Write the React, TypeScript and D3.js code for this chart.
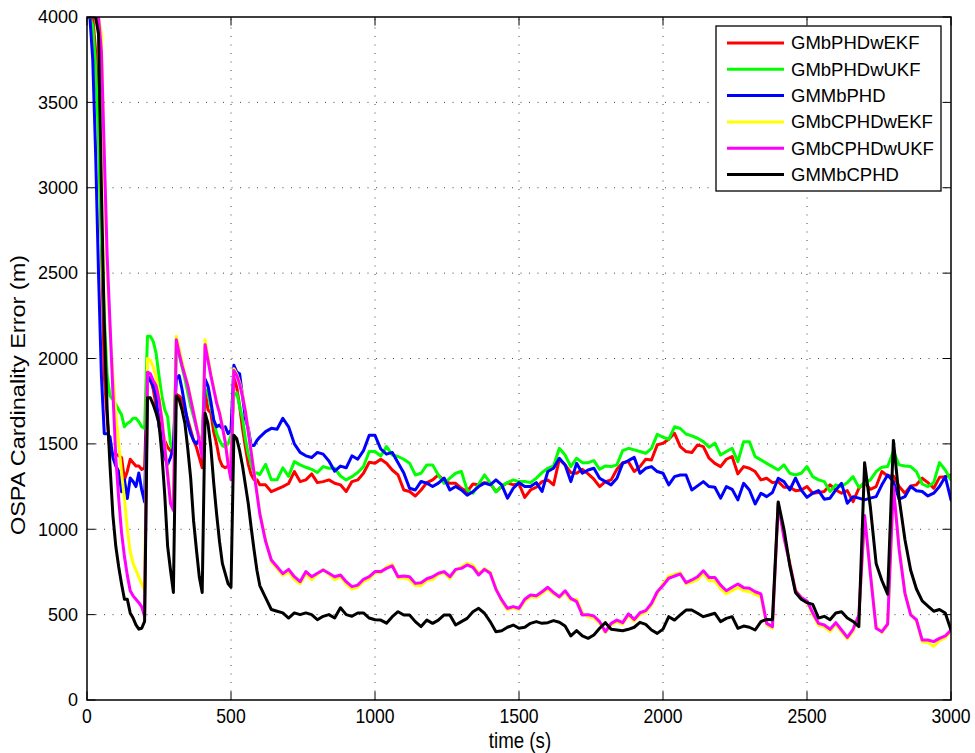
import React from 'react';
import * as d3 from 'd3';

// Sample times (s): 10 s steps up to 600 s, 20 s steps afterwards
const TIME: number[] = [...d3.range(0, 600, 10), ...d3.range(600, 3001, 20)];

const GMbPHDwEKF = [
  4000, 4000, 4000, 3800, 3400, 2700, 1900, 1650, 1450, 1440,
  1440, 1430, 1420, 1290, 1340, 1410, 1390, 1370, 1370, 1350,
  1360, 1890, 1880, 1820, 1720, 1660, 1580, 1520, 1480, 1460,
  1440, 1790, 1780, 1760, 1700, 1640, 1580, 1520, 1480, 1420,
  1360, 1810, 1700, 1680, 1570, 1500, 1410, 1370, 1360, 1370,
  1400, 1890, 1830, 1720, 1590, 1480, 1380, 1320, 1290, 1290,
  1260,
  1260, 1220, 1235, 1250, 1268, 1338, 1279, 1289, 1324, 1273,
  1279, 1289, 1269, 1260, 1221, 1279, 1289, 1328, 1392, 1386,
  1410, 1387, 1347, 1318, 1230, 1221, 1195, 1230, 1273, 1289,
  1318, 1285, 1269, 1269, 1240, 1221, 1265, 1260, 1273, 1269,
  1221, 1250, 1273, 1260, 1265, 1187, 1230, 1246, 1279, 1289,
  1260, 1410, 1377, 1332, 1328, 1351, 1324, 1293, 1250, 1279,
  1289, 1351, 1390, 1396, 1338, 1367, 1410, 1406, 1494, 1504,
  1527, 1562, 1484, 1455, 1449, 1494, 1484, 1416, 1386, 1367,
  1410, 1426, 1324, 1367, 1357, 1338, 1289, 1299, 1273, 1279,
  1246, 1246, 1226, 1230, 1250, 1211, 1215, 1221, 1260, 1230,
  1211, 1226, 1162, 1240, 1273, 1234, 1250, 1338, 1312, 1312,
  1250, 1211, 1254, 1260, 1299, 1273, 1240, 1304, 1308, 1318,
];

const GMbPHDwUKF = [
  4000, 4000, 3950, 3700, 3300, 2700, 2250, 1900, 1780, 1760,
  1730, 1700, 1670, 1600, 1620, 1630, 1650, 1650, 1630, 1600,
  1590, 2130, 2130, 2100, 2030, 1900, 1780, 1700, 1660, 1500,
  1450, 2050, 2020, 1950, 1880, 1800, 1720, 1660, 1590, 1540,
  1500, 1820, 1800, 1720, 1640, 1560, 1520, 1490, 1480, 1500,
  1550, 1780, 1800, 1720, 1650, 1530, 1440, 1380, 1330, 1330,
  1320,
  1380, 1290, 1290, 1360, 1310, 1396, 1377, 1363, 1351, 1332,
  1367, 1357, 1357, 1312, 1289, 1308, 1332, 1367, 1455, 1455,
  1429, 1484, 1435, 1426, 1410, 1387, 1318, 1328, 1377, 1377,
  1318, 1269, 1299, 1328, 1338, 1230, 1211, 1265, 1318, 1272,
  1218, 1254, 1273, 1289, 1279, 1280, 1273, 1299, 1332, 1357,
  1371, 1474, 1435, 1367, 1416, 1390, 1390, 1402, 1351, 1371,
  1367, 1377, 1461, 1474, 1465, 1455, 1445, 1474, 1556, 1539,
  1527, 1600, 1590, 1558, 1547, 1533, 1513, 1480, 1504, 1435,
  1455, 1474, 1396, 1513, 1513, 1425, 1406, 1386, 1367, 1347,
  1377, 1328, 1318, 1328, 1367, 1308, 1289, 1279, 1221, 1260,
  1250, 1273, 1308, 1246, 1269, 1289, 1338, 1363, 1367, 1455,
  1377, 1371, 1367, 1338, 1265, 1250, 1273, 1390, 1347, 1289,
];

const GMMbPHD = [
  4000, 4000, 3750, 3200, 2500, 1900, 1560, 1560, 1540, 1420,
  1370, 1340, 1220, 1290, 1180, 1300, 1280, 1250, 1330, 1230,
  1160, 1900, 1870, 1840, 1780, 1600, 1530, 1420, 1380, 1420,
  1480, 1880, 1900, 1820, 1720, 1620, 1560, 1520, 1500, 1530,
  1530, 1880, 1840, 1750, 1640, 1600, 1610, 1590, 1600, 1560,
  1580, 1960, 1920, 1910, 1780, 1650, 1590, 1490, 1490, 1520,
  1540,
  1572, 1591, 1586, 1650, 1600, 1500, 1450, 1430, 1420, 1450,
  1440, 1400, 1340, 1370, 1360, 1430, 1410, 1460, 1550, 1550,
  1470, 1440, 1450, 1390, 1330, 1240, 1230, 1280, 1270, 1250,
  1270, 1300, 1230, 1250, 1230, 1200, 1220, 1250, 1270, 1260,
  1289, 1260, 1182, 1240, 1273, 1250, 1250, 1273, 1221, 1338,
  1357, 1416, 1377, 1279, 1386, 1328, 1347, 1357, 1299, 1279,
  1260, 1299, 1386, 1402, 1421, 1328, 1357, 1367, 1338, 1328,
  1260, 1308, 1318, 1318, 1230, 1254, 1279, 1250, 1246, 1182,
  1250, 1234, 1172, 1269, 1230, 1148, 1211, 1191, 1215, 1299,
  1279, 1230, 1299, 1230, 1187, 1211, 1226, 1176, 1182, 1230,
  1269, 1152, 1191, 1182, 1172, 1182, 1191, 1260, 1318, 1279,
  1176, 1191, 1250, 1226, 1221, 1195, 1211, 1250, 1308, 1172,
];

const GMbCPHDwEKF = [
  4000, 4000, 4000, 4000, 4000, 3900, 3100, 2500, 2150, 1900,
  1680, 1500, 1330, 1180, 1000, 870, 800, 760, 720, 680,
  640, 2000, 1990, 1950, 1890, 1790, 1660, 1500, 1340, 1170,
  1120, 2130, 2060, 1980, 1910, 1850, 1770, 1690, 1610, 1530,
  1430, 2110, 2010, 1910, 1830, 1750, 1690, 1610, 1520, 1390,
  1300, 1940, 1910, 1860, 1790, 1700, 1580, 1460, 1340, 1220,
  1100,
  940, 810, 770, 730, 750, 705, 680, 740, 705, 735,
  765, 735, 705, 720, 680, 650, 660, 695, 710, 745,
  745, 780, 795, 715, 715, 705, 670, 670, 700, 705,
  735, 745, 710, 760, 780, 800, 790, 740, 770, 748,
  655, 578, 528, 540, 530, 580, 605, 600, 625, 650,
  622, 600, 632, 585, 590, 510, 488, 480, 450, 395,
  440, 458, 445, 495, 462, 500, 515, 556, 625, 680,
  725, 735, 746, 680, 690, 705, 742, 700, 696, 652,
  622, 640, 660, 640, 636, 618, 605, 440, 420, 1150,
  955, 810, 645, 600, 575, 500, 438, 428, 400, 444,
  398, 358, 404, 488, 1070, 745, 430, 395, 440, 1240,
  890, 632, 505, 462, 340, 338, 315, 348, 365, 402,
];

const GMbCPHDwUKF = [
  4000, 4000, 4000, 4000, 4000, 3800, 3200, 2600, 2200, 1800,
  1420, 1180, 980, 840, 730, 640, 610, 590, 570, 545,
  490, 1920, 1910, 1870, 1840, 1760, 1640, 1480, 1320, 1150,
  1110, 2110, 2030, 1960, 1900, 1840, 1760, 1680, 1600, 1520,
  1420, 2080, 1990, 1900, 1820, 1740, 1680, 1600, 1510, 1380,
  1290, 1930, 1900, 1850, 1780, 1690, 1570, 1450, 1330, 1210,
  1090,
  930, 820, 780, 740, 765, 722, 693, 752, 722, 742,
  761, 742, 722, 732, 693, 664, 673, 707, 722, 752,
  752, 771, 785, 722, 726, 722, 683, 687, 710, 722,
  742, 752, 722, 765, 771, 791, 777, 732, 765, 742,
  648, 586, 537, 547, 537, 590, 615, 610, 634, 660,
  630, 605, 640, 595, 576, 498, 500, 492, 459, 400,
  449, 468, 453, 504, 472, 511, 523, 566, 634, 670,
  713, 726, 738, 687, 703, 722, 757, 718, 718, 673,
  640, 660, 679, 658, 654, 634, 621, 449, 430, 1150,
  950, 800, 640, 600, 580, 510, 449, 439, 414, 453,
  410, 367, 414, 498, 1080, 740, 420, 400, 445, 1250,
  880, 625, 498, 470, 351, 351, 342, 361, 375, 410,
];

const GMMbCPHD = [
  4000, 4000, 4000, 4000, 3900, 3000, 2200, 1700, 1370, 1080,
  900, 780, 680, 590, 590, 510, 480, 440, 415, 420,
  460, 1770, 1770, 1730, 1680, 1620, 1440, 1200, 900, 760,
  630, 1780, 1760, 1700, 1620, 1470, 1300, 1050, 880, 720,
  630, 1680, 1620, 1480, 1270, 1090, 930, 800, 740, 680,
  660, 1550, 1530, 1460, 1370, 1260, 1150, 1010, 880, 760,
  670,
  600, 530, 520, 510, 480, 510, 500, 510, 500, 470,
  490, 500, 480, 540, 500, 490, 510, 510, 480, 470,
  468, 450, 488, 517, 498, 498, 459, 430, 468, 449,
  468, 498, 498, 439, 459, 478, 517, 537, 508, 459,
  400, 406, 426, 439, 420, 426, 449, 459, 449, 453,
  465, 455, 433, 375, 406, 375, 361, 381, 420, 453,
  414, 410, 406, 414, 426, 455, 443, 410, 390, 415,
  488, 468, 498, 527, 527, 508, 488, 498, 508, 459,
  478, 488, 420, 433, 426, 410, 459, 472, 470, 1160,
  1000, 790, 630, 590, 570, 560, 480, 490, 470, 510,
  517, 480, 460, 430, 1390, 1130, 800, 700, 620, 1520,
  1180, 940, 760, 650, 580, 550, 520, 530, 510, 410,
];

const SERIES_NAMES = ['GMbPHDwEKF', 'GMbPHDwUKF', 'GMMbPHD', 'GMbCPHDwEKF', 'GMbCPHDwUKF', 'GMMbCPHD'];
const SERIES_VALUES = [GMbPHDwEKF, GMbPHDwUKF, GMMbPHD, GMbCPHDwEKF, GMbCPHDwUKF, GMMbCPHD];
const SERIES_COLORS = ['#ff0000', '#00ff00', '#0000ff', '#ffff00', '#ff00ff', '#000000'];

const X_TICKS = [0, 500, 1000, 1500, 2000, 2500, 3000];
const Y_TICKS = [0, 500, 1000, 1500, 2000, 2500, 3000, 3500, 4000];

const WIDTH = 975;
const HEIGHT = 753;
const LEFT = 87;
const RIGHT = 951;
const TOP = 17;
const BOTTOM = 700;
const FONT = "'Liberation Sans', Arial, Helvetica, sans-serif";

export default function App() {
  const x = d3.scaleLinear().domain([0, 3000]).range([LEFT, RIGHT]);
  const y = d3.scaleLinear().domain([0, 4000]).range([BOTTOM, TOP]);
  const line = d3
    .line<number>()
    .x((_, i) => x(TIME[i]))
    .y((v) => y(v));

  const tickLen = 8.5;
  const legendX = 716;
  const legendY = 26;
  const legendW = 225;
  const legendH = 165;
  const rowH = 26.3;

  return (
    <svg
      width={WIDTH}
      height={HEIGHT}
      style={{ position: 'absolute', left: 0, top: 0, background: '#fff' }}
      fontFamily={FONT}
    >
      <defs>
        <clipPath id="plot-area">
          <rect x={LEFT} y={TOP} width={RIGHT - LEFT} height={BOTTOM - TOP} />
        </clipPath>
      </defs>
      <rect x={0} y={0} width={WIDTH} height={HEIGHT} fill="#fff" />

      {/* dotted grid */}
      <g stroke="#444" strokeWidth={1} strokeDasharray="1 7.5">
        {X_TICKS.slice(1, -1).map((t) => (
          <line key={`gx${t}`} x1={x(t)} x2={x(t)} y1={BOTTOM} y2={TOP} />
        ))}
        {Y_TICKS.slice(1, -1).map((v) => (
          <line key={`gy${v}`} x1={LEFT} x2={RIGHT} y1={y(v)} y2={y(v)} />
        ))}
      </g>

      {/* series */}
      <g clipPath="url(#plot-area)" fill="none" strokeWidth={3} strokeLinejoin="round" strokeLinecap="round">
        {SERIES_VALUES.map((vals, i) => (
          <path key={SERIES_NAMES[i]} d={line(vals) ?? ''} stroke={SERIES_COLORS[i]} />
        ))}
      </g>

      {/* axes box and ticks */}
      <rect x={LEFT} y={TOP} width={RIGHT - LEFT} height={BOTTOM - TOP} fill="none" stroke="#000" strokeWidth={1.5} />
      <g stroke="#000" strokeWidth={1}>
        {X_TICKS.map((t) => (
          <g key={`tx${t}`}>
            <line x1={x(t)} x2={x(t)} y1={BOTTOM} y2={BOTTOM - tickLen} />
            <line x1={x(t)} x2={x(t)} y1={TOP} y2={TOP + tickLen} />
          </g>
        ))}
        {Y_TICKS.map((v) => (
          <g key={`ty${v}`}>
            <line x1={LEFT} x2={LEFT + tickLen} y1={y(v)} y2={y(v)} />
            <line x1={RIGHT} x2={RIGHT - tickLen} y1={y(v)} y2={y(v)} />
          </g>
        ))}
      </g>

      {/* tick labels */}
      <g fontSize={20} fill="#000">
        {X_TICKS.map((t) => (
          <text
            key={`lx${t}`}
            transform={`translate(${x(t)}, 723) scale(0.88, 1)`}
            textAnchor="middle"
          >
            {t}
          </text>
        ))}
      </g>
      <g fontSize={18} fill="#000">
        {Y_TICKS.map((v) => (
          <text key={`ly${v}`} x={78} y={y(v)} dy="0.35em" textAnchor="end">
            {v}
          </text>
        ))}
      </g>

      {/* axis titles */}
      <text
        transform="translate(520, 748) scale(0.87, 1)"
        textAnchor="middle"
        fontSize={21.5}
      >
        time (s)
      </text>
      <text
        transform="translate(25, 395) rotate(-90) scale(1, 0.85)"
        textAnchor="middle"
        fontSize={23.5}
      >
        OSPA Cardinality Error (m)
      </text>

      {/* legend */}
      <rect x={legendX} y={legendY} width={legendW} height={legendH} fill="#fff" stroke="#000" strokeWidth={1.3} />
      {SERIES_NAMES.map((name, i) => {
        const cy = legendY + 17 + i * rowH;
        return (
          <g key={`lg${name}`}>
            <line x1={727} x2={784} y1={cy} y2={cy} stroke={SERIES_COLORS[i]} strokeWidth={3} />
            <text x={791} y={cy} dy="0.35em" fontSize={18.5}>
              {name}
            </text>
          </g>
        );
      })}
    </svg>
  );
}
